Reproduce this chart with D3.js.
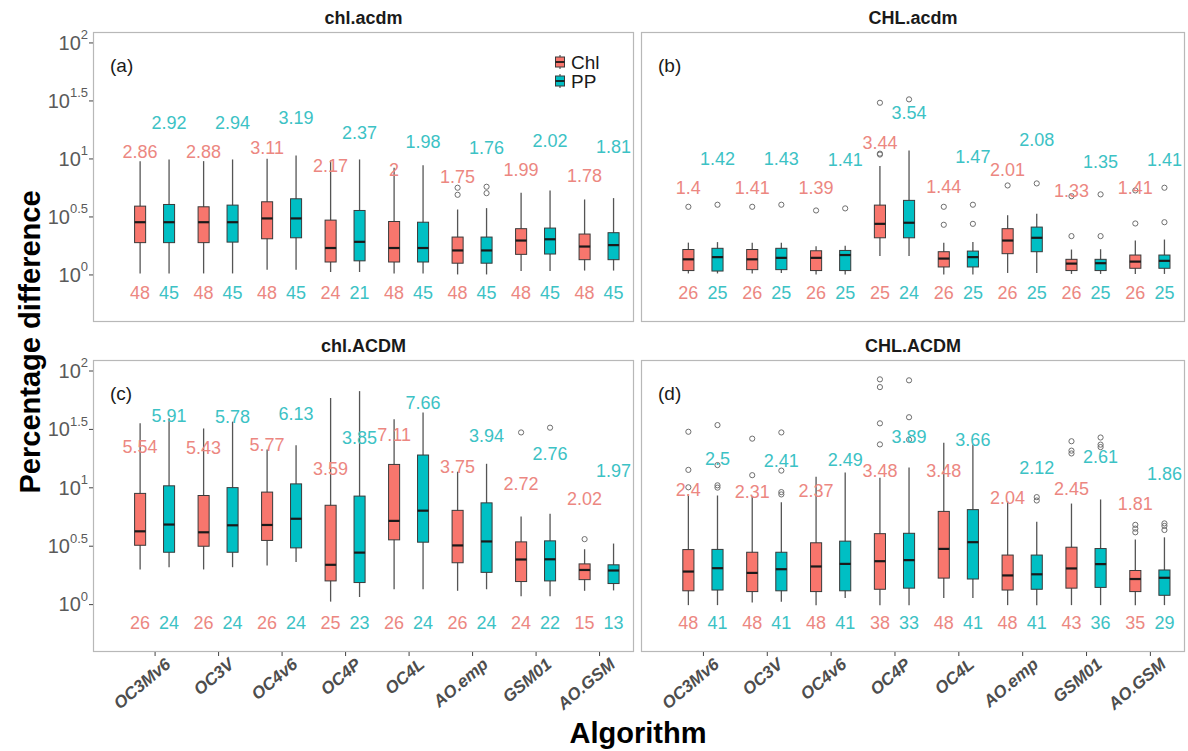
<!DOCTYPE html>
<html>
<head>
<meta charset="utf-8">
<script src="https://cdn.jsdelivr.net/npm/d3@7"></script>
<style>
  body { margin: 0; background: #fff; }
  svg { display: block; font-family: "Liberation Sans", Arial, Helvetica, sans-serif; }
</style>
</head>
<body>
<svg id="chart" width="1188" height="751"></svg>
<script>
// ---- categories and labels ----
const algorithms = ["OC3Mv6", "OC3V", "OC4v6", "OC4P", "OC4L", "AO.emp", "GSM01", "AO.GSM"];
const seriesNames = ["Chl", "PP"];
const seriesColors = ["#F8766D", "#00BFC4"];
const seriesTextColors = ["#EC8781", "#3CC2C5"];
const panelTitles = ["chl.acdm", "CHL.acdm", "chl.ACDM", "CHL.ACDM"];
const panelTags = ["(a)", "(b)", "(c)", "(d)"];
const yTickExponents = ["0", "0.5", "1", "1.5", "2"];

// ---- chl.acdm : box stats [lower whisker, Q1, median, Q3, upper whisker] ----
const aStatsChl = [[1.02,1.88,2.82,3.88,9.48],[1.02,1.88,2.82,3.83,9.48],[1.10,2.03,3.04,4.23,9.94],[1.05,1.28,1.69,2.94,9.6],
                   [1.02,1.28,1.69,2.86,8.3],[1.00,1.25,1.61,2.10,3.63],[1.07,1.49,1.96,2.48,5.06],[1.08,1.34,1.74,2.23,4.43]];
const aStatsPP  = [[1.02,1.88,2.82,4.01,9.8],[1.02,1.90,2.82,3.96,9.8],[1.10,2.07,3.04,4.49,10.6],[1.05,1.31,1.91,3.56,9.8],
                   [1.02,1.28,1.69,2.82,8.75],[1.00,1.25,1.61,2.10,3.73],[1.07,1.50,2.01,2.51,5.3],[1.08,1.34,1.79,2.29,4.55]];
const aOutChl = [[],[],[],[],[],[5.59,4.86],[],[]];
const aOutPP  = [[],[],[],[],[],[5.7,5.02],[],[]];
const aMeanChl = [2.86,2.88,3.11,2.17,2,1.75,1.99,1.78];
const aMeanPP  = [2.92,2.94,3.19,2.37,1.98,1.76,2.02,1.81];
const aCountChl = [48,48,48,24,48,48,48,48];
const aCountPP  = [45,45,45,21,45,45,45,45];

// ---- CHL.acdm ----
const bStatsChl = [[1.02,1.08,1.35,1.64,1.88],[1.02,1.10,1.35,1.64,1.88],[1.00,1.08,1.39,1.60,1.75],[1.44,2.07,2.73,3.96,8.59],
                   [1.00,1.16,1.37,1.57,1.88],[1.03,1.51,1.96,2.48,3.24],[1.01,1.08,1.24,1.35,1.64],[1.01,1.13,1.29,1.47,1.96]];
const bStatsPP  = [[1.02,1.07,1.41,1.68,1.9],[1.03,1.10,1.39,1.68,1.88],[1.00,1.08,1.47,1.61,1.77],[1.44,2.07,2.79,4.35,11.7],
                   [1.00,1.16,1.41,1.59,1.9],[1.03,1.57,2.07,2.56,3.34],[1.01,1.08,1.25,1.35,1.65],[1.01,1.13,1.31,1.47,2.0]];
const bOutChl = [[3.83],[3.83],[3.56],[30.2,11.0,10.8],[3.83,2.68],[5.85],[2.14,4.73],[2.75,5.3]];
const bOutPP  = [[3.99],[3.99],[3.71],[32.3],[3.99,2.73],[6.09],[2.14,4.9],[2.82,5.59]];
const bMeanChl = [1.4,1.41,1.39,3.44,1.44,2.01,1.33,1.41];
const bMeanPP  = [1.42,1.43,1.41,3.54,1.47,2.08,1.35,1.41];
const bCountChl = [26,26,26,25,26,26,26,26];
const bCountPP  = [25,25,25,24,25,25,25,25];

// ---- chl.ACDM ----
const cStatsChl = [[1.98,3.19,4.2,8.87,35.3],[1.98,3.13,4.12,8.51,31.9],[2.14,3.51,4.76,9.1,21.1],[1.05,1.58,2.17,7.02,58.2],
                   [1.34,3.55,5.16,15.7,38.3],[1.30,2.26,3.18,6.35,13.6],[1.17,1.56,2.41,3.41,5.63],[1.30,1.62,1.96,2.21,2.95]];
const cStatsPP  = [[2.07,2.78,4.8,10.3,39.0],[2.07,2.78,4.73,9.94,36.5],[2.29,3.03,5.38,10.7,22.9],[1.15,1.53,2.76,8.41,66.6],
                   [1.34,3.39,6.31,18.9,43.7],[1.34,1.87,3.44,7.36,15.9],[1.17,1.58,2.42,3.48,5.94],[1.31,1.50,1.94,2.17,3.3]];
const cOutChl = [[],[],[],[],[],[],[29.5],[3.6]];
const cOutPP  = [[],[],[],[],[],[],[32.4],[]];
const cMeanChl = [5.54,5.43,5.77,3.59,7.11,3.75,2.72,2.02];
const cMeanPP  = [5.91,5.78,6.13,3.85,7.66,3.94,2.76,1.97];
const cCountChl = [26,26,26,25,26,26,24,15];
const cCountPP  = [24,24,24,23,24,24,22,13];

// ---- CHL.ACDM ----
const dStatsChl = [[0.98,1.30,1.90,2.93,8.69],[1.03,1.28,1.85,2.78,8.4],[0.98,1.28,2.10,3.35,12.3],[0.98,1.34,2.33,4.01,12.1],
                   [1.13,1.67,2.97,6.22,24.1],[0.98,1.32,1.76,2.63,7.6],[0.98,1.37,2.02,3.07,7.26],[0.98,1.28,1.64,1.94,3.58]];
const dStatsPP  = [[0.98,1.32,2.03,2.94,8.51],[1.05,1.30,1.99,2.78,7.45],[1.13,1.30,2.21,3.46,13.4],[0.98,1.37,2.38,4.04,14.8],
                   [1.13,1.64,3.39,6.44,23.2],[0.98,1.34,1.80,2.63,5.06],[0.98,1.39,2.20,2.99,7.87],[0.98,1.19,1.68,1.96,3.73]];
const dOutChl = [[29.9,14.1,10.0],[26.1,12.7],[],[84,72.1,35.3,23.3],[],[],[24.8,20.6,19.5],[4.77,4.43,4.12]];
const dOutPP  = [[34.1,15.5,10.4,9.94],[29.5,13.9,9.1,8.69],[],[82.4,39.8,25.6],[],[8.24,7.71],[26.7,23.2,22.1],[4.91,4.67,4.31]];
const dMeanChl = [2.4,2.31,2.37,3.48,3.48,2.04,2.45,1.81];
const dMeanPP  = [2.5,2.41,2.49,3.89,3.66,2.12,2.61,1.86];
const dCountChl = [48,48,48,38,48,48,43,35];
const dCountPP  = [41,41,41,33,41,41,36,29];

const panels = [
  { stats: [aStatsChl, aStatsPP], out: [aOutChl, aOutPP], mean: [aMeanChl, aMeanPP], count: [aCountChl, aCountPP] },
  { stats: [bStatsChl, bStatsPP], out: [bOutChl, bOutPP], mean: [bMeanChl, bMeanPP], count: [bCountChl, bCountPP] },
  { stats: [cStatsChl, cStatsPP], out: [cOutChl, cOutPP], mean: [cMeanChl, cMeanPP], count: [cCountChl, cCountPP] },
  { stats: [dStatsChl, dStatsPP], out: [dOutChl, dOutPP], mean: [dMeanChl, dMeanPP], count: [dCountChl, dCountPP] }
];

// ---- layout ----
const svg = d3.select("#chart");
const cols = [[93, 634], [641, 1185]];
const rows = [[32, 322], [360, 652]];
const xDomain = [-0.97, 7.55];
const yDomain = [Math.pow(10, -0.41), Math.pow(10, 2.09)];
const dodge = 0.228;      // offset of each series from the category centre
const boxHalf = 0.087;    // half box width, category units
const labelLift = [4, 7]; // mean labels sit at mean * lift
const countLevel = 0.7;   // sample-size labels row

panels.forEach((p, k) => {
  const [x0, x1] = cols[k % 2];
  const [y0, y1] = rows[Math.floor(k / 2)];
  const x = d3.scaleLinear().domain(xDomain).range([x0, x1]);
  const y = d3.scaleLog().domain(yDomain).range([y1, y0]);
  const g = svg.append("g");

  // panel frame
  g.append("rect").attr("x", x0 + 0.5).attr("y", y0 + 0.5)
    .attr("width", x1 - x0 - 1).attr("height", y1 - y0 - 1)
    .attr("fill", "#fff").attr("stroke", "#b8b8b8").attr("stroke-width", 1.2);

  // strip title
  g.append("text").attr("x", (x0 + x1) / 2).attr("y", y0 - 8)
    .attr("text-anchor", "middle").attr("font-size", 18).attr("font-weight", "bold")
    .attr("fill", "#1a1a1a").text(panelTitles[k]);

  // panel tag
  g.append("text").attr("x", x0 + 17).attr("y", y0 + 40)
    .attr("font-size", 19).attr("fill", "#1a1a1a").text(panelTags[k]);

  seriesNames.forEach((name, s) => {
    const off = s === 0 ? -dodge : dodge;
    const sg = g.append("g").attr("class", "series-" + name);
    p.stats[s].forEach((st, i) => {
      const cx = x(i + off);
      // whisker
      sg.append("line").attr("x1", cx).attr("x2", cx)
        .attr("y1", y(st[0])).attr("y2", y(st[4]))
        .attr("stroke", "#555").attr("stroke-width", 1.3);
      // box
      sg.append("rect").attr("x", x(i + off - boxHalf)).attr("y", y(st[3]))
        .attr("width", x(i + off + boxHalf) - x(i + off - boxHalf))
        .attr("height", y(st[1]) - y(st[3]))
        .attr("fill", seriesColors[s]).attr("stroke", "#3a3a3a").attr("stroke-width", 1);
      // median
      sg.append("line").attr("x1", x(i + off - boxHalf)).attr("x2", x(i + off + boxHalf))
        .attr("y1", y(st[2])).attr("y2", y(st[2]))
        .attr("stroke", "#1a1a1a").attr("stroke-width", 2.2);
      // outliers
      p.out[s][i].forEach(v => {
        sg.append("circle").attr("cx", cx).attr("cy", y(v)).attr("r", 2.6)
          .attr("fill", "none").attr("stroke", "#6e6e6e").attr("stroke-width", 1);
      });
      // mean label
      sg.append("text").attr("x", cx).attr("y", y(p.mean[s][i] * labelLift[s]))
        .attr("dy", "0.36em").attr("text-anchor", "middle").attr("font-size", 18)
        .attr("fill", seriesTextColors[s]).text(String(p.mean[s][i]));
      // sample size
      sg.append("text").attr("x", cx).attr("y", y(countLevel))
        .attr("dy", "0.36em").attr("text-anchor", "middle").attr("font-size", 18)
        .attr("fill", seriesTextColors[s]).text(String(p.count[s][i]));
    });
  });

  // y axis on the left column
  if (k % 2 === 0) {
    const tickVals = yTickExponents.map(e => Math.pow(10, +e));
    const ax = g.append("g").attr("transform", `translate(${x0},0)`)
      .call(d3.axisLeft(y).tickValues(tickVals).tickSize(4).tickFormat(() => ""));
    ax.select(".domain").remove();
    ax.selectAll(".tick line").attr("stroke", "#444");
    yTickExponents.forEach((e, j) => {
      const t = g.append("text").attr("x", x0 - 5).attr("y", y(tickVals[j]))
        .attr("dy", "0.45em").attr("text-anchor", "end").attr("fill", "#5a5a5a");
      t.append("tspan").attr("font-size", 20).text("10");
      t.append("tspan").attr("font-size", 13).attr("dy", "-0.8em").text(e);
    });
  }

  // x axis on the bottom row
  if (k >= 2) {
    const ax = g.append("g").attr("transform", `translate(0,${y1})`)
      .call(d3.axisBottom(x).tickValues(d3.range(algorithms.length)).tickSize(4)
        .tickFormat(i => algorithms[i]));
    ax.select(".domain").remove();
    ax.selectAll(".tick line").attr("stroke", "#444");
    ax.selectAll(".tick text")
      .attr("font-family", "\"Liberation Sans\", Arial, sans-serif")
      .attr("font-size", 17).attr("font-weight", "bold").attr("font-style", "italic")
      .attr("fill", "#4d4d4d").attr("text-anchor", "end")
      .attr("y", 0).attr("dy", 0)
      .attr("transform", "translate(9,5) rotate(-40)")
      .attr("dominant-baseline", "hanging");
  }

  // legend inside the first panel
  if (k === 0) {
    const lg = g.append("g");
    seriesNames.forEach((name, s) => {
      const cy = 62 + s * 19;
      const lx = 560;
      lg.append("line").attr("x1", lx).attr("x2", lx).attr("y1", cy - 7).attr("y2", cy + 7)
        .attr("stroke", "#555").attr("stroke-width", 1.2);
      lg.append("rect").attr("x", lx - 4.5).attr("y", cy - 5).attr("width", 9).attr("height", 10)
        .attr("fill", seriesColors[s]).attr("stroke", "#3a3a3a").attr("stroke-width", 1);
      lg.append("line").attr("x1", lx - 4.5).attr("x2", lx + 4.5).attr("y1", cy).attr("y2", cy)
        .attr("stroke", "#1a1a1a").attr("stroke-width", 1.8);
      lg.append("text").attr("x", 571).attr("y", cy).attr("dy", "0.36em")
        .attr("font-size", 19).attr("fill", "#1a1a1a").text(name);
    });
  }
});

// axis titles
svg.append("text").attr("transform", "translate(40,342) rotate(-90)")
  .attr("text-anchor", "middle").attr("font-size", 29).attr("font-weight", "bold")
  .attr("fill", "#000").text("Percentage difference");
svg.append("text").attr("x", 638).attr("y", 743)
  .attr("text-anchor", "middle").attr("font-size", 29).attr("font-weight", "bold")
  .attr("fill", "#000").text("Algorithm");
</script>
</body>
</html>
